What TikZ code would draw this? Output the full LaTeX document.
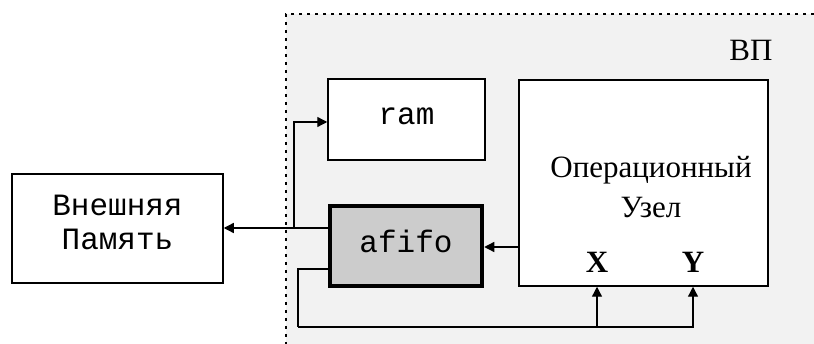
\documentclass[tikz,border=0pt]{standalone}
\usepackage{fontspec}
\setmainfont{Liberation Serif}
\setmonofont{Liberation Mono}
\usetikzlibrary{arrows.meta}
\definecolor{zonefill}{HTML}{F2F2F2}
\definecolor{fifofill}{HTML}{CCCCCC}
\begin{document}
\begin{tikzpicture}[x=1pt,y=-1pt,
  box/.style={draw,line width=1.5pt,fill=white,inner sep=0pt,anchor=center},
  monotext/.style={font=\fontsize{31}{34}\selectfont\ttfamily,align=center},
  serif/.style={font=\fontsize{31}{40}\selectfont,align=center},
  port/.style={font=\fontsize{31}{34}\selectfont\bfseries},
  wire/.style={line width=1.3pt},
  arr/.style={wire,-{Triangle[length=10pt,width=10pt]}}]
\useasboundingbox (0,0) rectangle (814,344);
% processor zone
\fill[zonefill] (286,14) rectangle (814,344);
\draw[line width=2.2pt,dash pattern=on 3pt off 5pt] (814,14) -- (286,14) -- (286,344);
\node[serif] (vp) at (751,50) {ВП};
% blocks
\node[box,minimum width=157pt,minimum height=81pt] (ram) at (406.5,119.5) {};
\node[monotext] at (406.5,116) {ram};
\node[box,minimum width=249pt,minimum height=206pt] (op) at (643.5,183) {};
\node[serif] (optext) at (651,187) {Операционный\\Узел};
\node[port] (px) at (597,262) {X};
\node[port] (py) at (693,262) {Y};
\node[box,fill=fifofill,line width=4.5pt,minimum width=152pt,minimum height=80pt] (afifo) at (406,246) {};
\node[monotext] at (406,241) {afifo};
\node[box,minimum width=211pt,minimum height=109pt] (ext) at (117.5,228.5) {};
\node[monotext] at (117.5,222) {Внешняя\\Память};
% connection points
\coordinate (fifoOut) at (328,228);
\coordinate (branch) at (294,228);
\coordinate (ramIn) at (294,122);
\coordinate (fbOut) at (328,269);
\coordinate (fbCorner) at (298,327);
% connectors
\draw[arr] (fifoOut) -- (ext.east |- fifoOut);
\draw[arr] (branch) -- (ramIn) -- (ram.west |- ramIn);
\draw[arr] (op.west |- 0,247) -- (afifo.east |- 0,247);
\draw[wire] (fbOut) -- (fbCorner |- fbOut) -- (fbCorner);
\draw[arr] (fbCorner) -- (693,327) -- (op.south -| py);
\draw[arr] (597,327) -- (op.south -| px);
\end{tikzpicture}
\end{document}
